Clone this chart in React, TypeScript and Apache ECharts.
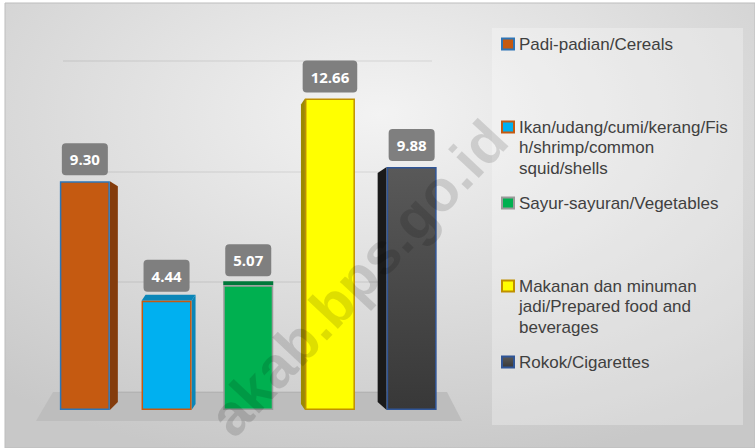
import React, { useEffect, useRef } from "react";
import * as echarts from "echarts";

const categories = [
  "Padi-padian/Cereals",
  "Ikan/udang/cumi/kerang/Fis\nh/shrimp/common\nsquid/shells",
  "Sayur-sayuran/Vegetables",
  "Makanan dan minuman\njadi/Prepared food and\nbeverages",
  "Rokok/Cigarettes",
];
const values = [9.3, 4.44, 5.07, 12.66, 9.88];

const barColors: any[] = [
  "#c55a11",
  "#00b0f0",
  "#00b050",
  "#ffff00",
  new echarts.graphic.LinearGradient(0, 0, 0, 1, [
    { offset: 0, color: "#595959" },
    { offset: 1, color: "#383838" },
  ]),
];
const borderColors = ["#2e75b6", "#c55a11", "#9a9a9a", "#bf9000", "#2f5597"];
// 3D face styling: [dx, dyTop, dyBottom, faceColor]
const faces: [number, number, number, string][] = [
  [8, 5, -8, "#843c0c"],
  [4, -6, -6, "#0a86b8"],
  [0, -4, 0, "#00783a"],
  [-4, 6, -6, "#9c8a00"],
  [-9, 6, -8, "#1a1a1a"],
];
const legendCenters = [44, 127, 203, 286, 362];

export default function App() {
  const ref = useRef<HTMLDivElement>(null);
  useEffect(() => {
    document.body.style.margin = "0";
    const chart = echarts.init(ref.current!, null, { renderer: "svg" });
    const font = "Open Sans";

    const barSeries = categories.map((name, i) => ({
      type: "bar",
      name,
      xAxisIndex: 0,
      yAxisIndex: 0,
      barWidth: 50,
      barGap: "-100%",
      z: 3,
      data: values.map((v, j) => (j === i ? v : "-")),
      itemStyle: {
        color: barColors[i],
        borderColor: borderColors[i],
        borderWidth: 1.5,
      },
      label: {
        show: true,
        position: "top",
        distance: i === 1 || i === 2 ? 9 : 6,
        formatter: (p: any) => Number(p.value).toFixed(2),
        backgroundColor: "#7f7f7f",
        borderRadius: 4,
        padding: [7, 8, 7, 8],
        color: "#ffffff",
        fontWeight: "bold",
        fontSize: 15,
        lineHeight: 18,
        fontFamily: font,
      },
    }));

    const faceSeries = {
      type: "custom",
      xAxisIndex: 0,
      yAxisIndex: 0,
      z: 2,
      silent: true,
      data: values.map((v, i) => [i, v]),
      renderItem: (params: any, api: any) => {
        const i = params.dataIndex;
        const top = api.coord([api.value(0), api.value(1)]);
        const base = api.coord([api.value(0), 0]);
        const half = 25;
        const left = top[0] - half;
        const right = top[0] + half;
        const [dx, dyT, dyB, col] = faces[i];
        const children: any[] = [];
        if (dx !== 0) {
          const edge = dx > 0 ? right : left;
          children.push({
            type: "polygon",
            shape: {
              points: [
                [edge, top[1]],
                [edge + dx, top[1] + dyT],
                [edge + dx, base[1] + dyB],
                [edge, base[1]],
              ],
            },
            style: { fill: col },
          });
        }
        if (dyT < 0) {
          children.push({
            type: "polygon",
            shape: {
              points: [
                [left, top[1]],
                [left + dx, top[1] + dyT],
                [right + dx, top[1] + dyT],
                [right, top[1]],
              ],
            },
            style: { fill: col },
          });
        }
        return { type: "group", children };
      },
    };

    const lh = 20.5;
    const legends = categories.map((name, i) => {
      const lines = name.split("\n").length;
      const total = 2 * lines - 1;
      return {
        data: [name],
        left: 501,
        top: legendCenters[i] - (total * lh) / 2,
        padding: 0,
        icon: "rect",
        itemWidth: 12,
        itemHeight: 11,
        selectedMode: false,
        formatter: (nm: string) => "\n".repeat(lines - 1) + nm,
        textStyle: {
          fontFamily: "Liberation Sans",
          fontSize: 17,
          lineHeight: lh,
          color: "#404040",
        },
      };
    });

    chart.setOption({
      animation: false,
      backgroundColor: "#ffffff",
      graphic: [
        {
          type: "rect",
          z: -10,
          shape: { x: 5, y: 3, width: 750, height: 445 },
          style: {
            fill: new echarts.graphic.RadialGradient(0.5, 0.25, 0.8, [
              { offset: 0, color: "#f3f3f3" },
              { offset: 1, color: "#c8c8c8" },
            ]),
            stroke: "#bdbdbd",
            lineWidth: 1,
          },
        },
        {
          type: "rect",
          z: -9,
          shape: { x: 492, y: 28, width: 251, height: 397 },
          style: { fill: "rgba(255,255,255,0.28)" },
        },
        {
          type: "polygon",
          z: -8,
          shape: {
            points: [
              [53, 392],
              [447, 392],
              [462, 421],
              [36, 421],
            ],
          },
          style: { fill: "#bdbdbd" },
        },
        {
          type: "text",
          z: 100,
          x: 358,
          y: 278,
          rotation: 0.82,
          silent: true,
          style: {
            text: "akab.bps.go.id",
            fontFamily: "Liberation Sans",
            fontWeight: "bold",
            fontSize: 58,
            fill: "rgba(0,0,0,0.13)",
            align: "center",
            verticalAlign: "middle",
          },
        },
      ],
      legend: legends,
      grid: [
        { left: 44, right: 302.5, top: 41, bottom: 38 },
        { left: 63, right: 323, top: 61, bottom: 56 },
      ],
      xAxis: [
        {
          type: "category",
          gridIndex: 0,
          data: categories,
          show: false,
        },
        { type: "value", gridIndex: 1, show: false, min: 0, max: 1 },
      ],
      yAxis: [
        { type: "value", gridIndex: 0, min: 0, max: 15, show: false },
        {
          type: "value",
          gridIndex: 1,
          min: 0,
          max: 15,
          interval: 5,
          axisLine: { show: false },
          axisTick: { show: false },
          axisLabel: { show: false },
          splitLine: { lineStyle: { color: "rgba(0,0,0,0.07)", width: 1.5 } },
        },
      ],
      series: [faceSeries, ...barSeries],
    });
    return () => chart.dispose();
  }, []);
  return <div ref={ref} style={{ width: 755, height: 448 }} />;
}
